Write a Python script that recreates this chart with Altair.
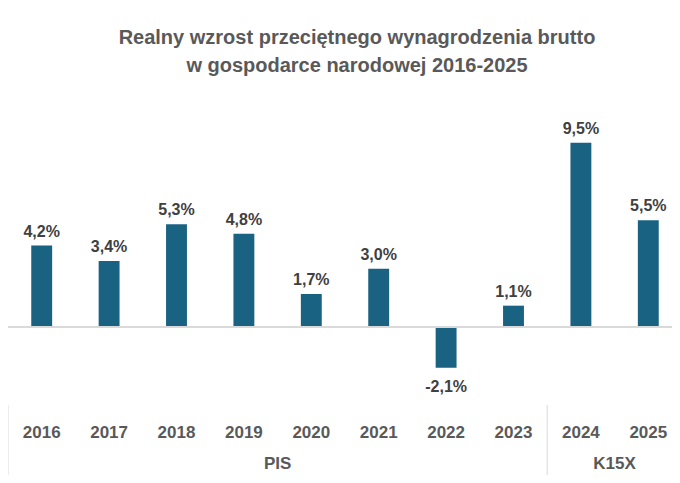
import altair as alt
import pandas as pd

years = ["2016", "2017", "2018", "2019", "2020", "2021", "2022", "2023", "2024", "2025"]
growth = [4.2, 3.4, 5.3, 4.8, 1.7, 3.0, -2.1, 1.1, 9.5, 5.5]
groups = ["PIS", "K15X"]
group_anchor = ["2019", "2024"]      # group label sits on the right edge of this step
separators = ["2016", "2024"]        # separator on the left edge of this step

FONT = "Liberation Sans Narrow, Liberation Sans, Arial"
BAR = "#1a6282"
GREY = "#595959"

df = pd.DataFrame({
    "rok": years,
    "wzrost": growth,
    "etykieta": [f"{v:.1f}%".replace(".", ",") for v in growth],
})
grp = pd.DataFrame({"grupa": groups, "rok": group_anchor})
sep = pd.DataFrame({"rok": separators})

W, H = 674, 305
xscale = alt.Scale(domain=years, paddingInner=0.69, paddingOuter=0.345)
xsteps = alt.Scale(domain=years, paddingInner=0, paddingOuter=0)
yscale = alt.Scale(domain=[-4.02, 11.7], nice=False, zero=False)

base = alt.Chart(df).encode(
    x=alt.X("rok:N", scale=xscale, sort=None,
            axis=alt.Axis(title=None, ticks=False, domain=False, labelAngle=0,
                          labelFont=FONT, labelFontSize=17, labelFontWeight="bold",
                          labelColor=GREY, labelPadding=19))
)

bars = base.mark_bar(color=BAR).encode(
    y=alt.Y("wzrost:Q", scale=yscale, axis=None)
)

zero = base.mark_rule(color="#d9d9d9", strokeWidth=1).encode(
    x=alt.value(0), x2=alt.value(664), y=alt.Y(datum=0, scale=yscale)
)

lbl_style = dict(font=FONT, fontSize=16, fontWeight="bold", color="#404040")
pos = base.mark_text(baseline="alphabetic", dy=-9, **lbl_style).encode(
    y=alt.Y("wzrost:Q", scale=yscale), text="etykieta:N"
).transform_filter("datum.wzrost >= 0")
neg = base.mark_text(baseline="alphabetic", dy=24, **lbl_style).encode(
    y=alt.Y("wzrost:Q", scale=yscale), text="etykieta:N"
).transform_filter("datum.wzrost < 0")

glabels = alt.Chart(grp).mark_text(baseline="middle", **{**lbl_style, "fontSize": 17, "color": GREY}).encode(
    x=alt.X("rok:N", scale=xsteps, bandPosition=1, axis=None),
    y=alt.value(H + 59),
    text="grupa:N",
)

seps = alt.Chart(sep).mark_rule(color="#d9d9d9", strokeWidth=1).encode(
    x=alt.X("rok:N", scale=xsteps, bandPosition=0, axis=None),
    y=alt.value(H),
    y2=alt.value(H + 72),
)

marks = alt.layer(bars, zero, pos, neg)
extra = alt.layer(seps, glabels)

chart = alt.layer(marks, extra).resolve_scale(x="independent").properties(
    width=W,
    height=H,
    autosize=alt.AutoSizeParams(type="none"),
    padding={"left": 0, "top": 92, "right": -10, "bottom": 70},
    title=alt.Title(
        ["Realny wzrost przeciętnego wynagrodzenia brutto",
         "w gospodarce narodowej 2016-2025"],
        font=FONT, fontSize=20, fontWeight="bold", color=GREY,
        anchor="middle", offset=24, dx=12, lineHeight=28,
    ),
).configure_view(stroke=None)

chart.save("out.html", embed_options={"renderer": "svg", "actions": False})
